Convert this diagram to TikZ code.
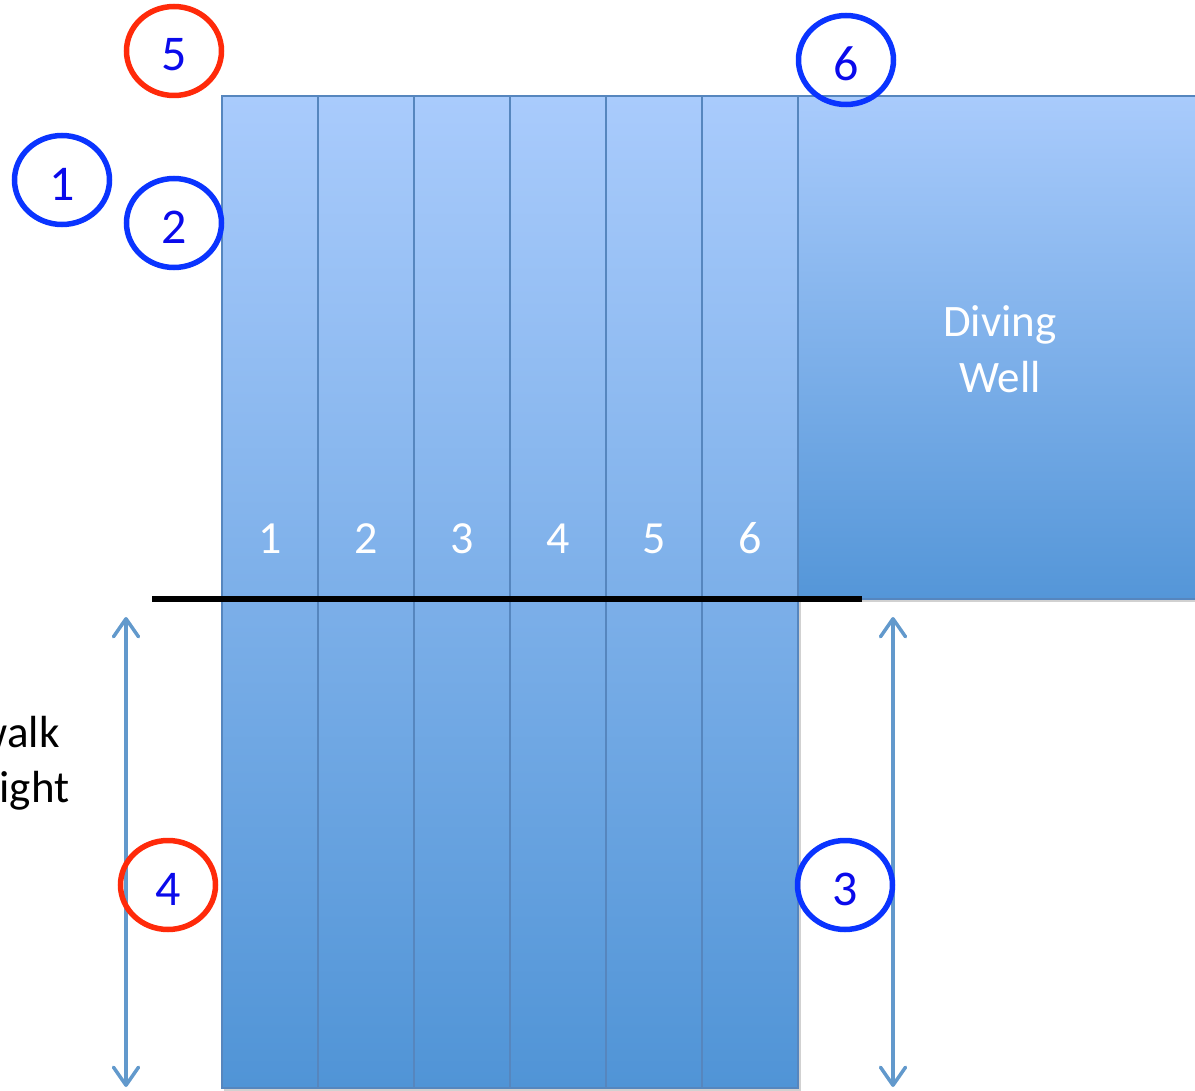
\documentclass[tikz,border=0pt]{standalone}
\usepackage{fontspec}
\setmainfont{Carlito}
\usetikzlibrary{shapes.geometric,arrows.meta}
\definecolor{laneTop}{RGB}{169,203,252}
\definecolor{laneBot}{RGB}{80,148,214}
\definecolor{wellBot}{RGB}{84,150,216}
\definecolor{laneEdge}{RGB}{86,134,190}
\definecolor{ringBlue}{RGB}{10,52,255}
\definecolor{ringRed}{RGB}{255,42,10}
\definecolor{digitBlue}{RGB}{10,10,235}
\definecolor{dimBlue}{RGB}{98,153,204}
\tikzset{
  lanebox/.style={top color=laneTop, bottom color=laneBot, draw=laneEdge, line width=1.6pt},
  ring/.style={ellipse, minimum width=95pt, minimum height=89pt, inner sep=0pt, line width=5.5pt,
    text=digitBlue, font=\fontsize{50}{50}\selectfont},
  bluering/.style={ring, draw=ringBlue},
  redring/.style={ring, draw=ringRed},
  lanenum/.style={anchor=base, text=white, font=\fontsize{46}{46}\selectfont},
  welltext/.style={anchor=base, text=white, font=\fontsize{45}{45}\selectfont},
  sidetext/.style={anchor=base east, text=black, font=\fontsize{45}{45}\selectfont},
  dimarrow/.style={draw=dimBlue, line width=3.5pt,
    {Straight Barb[length=18pt,width=25pt,round]}-{Straight Barb[length=18pt,width=25pt,round]}},
  startline/.style={draw=black, line width=5.5pt}
}
\newcommand{\lowdig}[1]{\raisebox{-4pt}[\height][\depth]{#1}}
\begin{document}
\begin{tikzpicture}[x=1pt,y=-1pt]
\useasboundingbox (0,0) rectangle (1195,1091);
% soft shadows
\fill[black!18] (224,99) rectangle (801,1091);
\fill[black!18] (800,99) rectangle (1200,602);
% diving well
\shade[top color=laneTop, bottom color=wellBot] (798,96) rectangle (1200,599);
\draw[laneEdge, line width=1.6pt] (1200,96) -- (798,96) -- (798,599) -- (1200,599);
% lanes
\foreach \i in {0,...,5}{
  \path[lanebox] ({222+96*\i},96) rectangle ({318+96*\i},1088);
}
% lane numbers
\foreach \i in {1,...,6}{
  \node[lanenum] (ln\i) at ({174+96*\i},553) {\i};
}
% diving well text
\node[welltext] (dw1) at (1000,337) {Diving};
\node[welltext] (dw2) at (1000,392) {Well};
% start line
\coordinate (sl1) at (152,599);
\coordinate (sl2) at (862,599);
\draw[startline] (sl1) -- (sl2);
% dimension arrows
\coordinate (la1) at (126,617);
\coordinate (la2) at (126,1087);
\coordinate (ra1) at (893,617);
\coordinate (ra2) at (893,1087);
\draw[dimarrow] (la1) -- (la2);
\draw[dimarrow] (ra1) -- (ra2);
% side text
\node[sidetext] (st1) at (63,747) {walk};
\node[sidetext] (st2) at (73,802) {ight};
% circled markers
\node[redring] (m5) at (174,51) {\lowdig{5}};
\node[bluering] (m1) at (62,180) {\lowdig{1}};
\node[bluering] (m2) at (174,223) {\lowdig{2}};
\node[bluering] (m6) at (846,60) {\lowdig{6}};
\node[redring] (m4) at (168,885) {\lowdig{4}};
\node[bluering] (m3) at (845,885) {\lowdig{3}};
\end{tikzpicture}
\end{document}
